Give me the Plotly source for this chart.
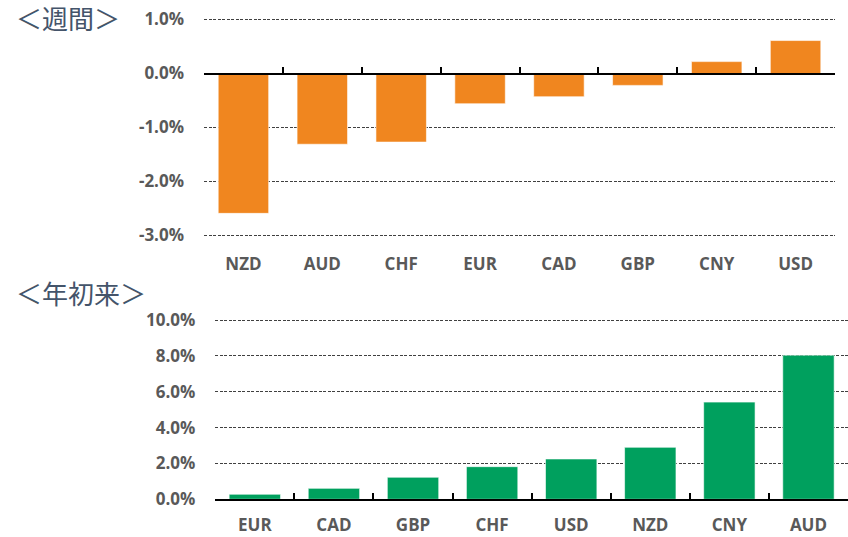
import plotly.graph_objects as go

# ---- data ----
weekly_labels = ["NZD", "AUD", "CHF", "EUR", "CAD", "GBP", "CNY", "USD"]
weekly_values = [-2.59, -1.31, -1.27, -0.56, -0.43, -0.22, 0.22, 0.61]
weekly_ticks = [1.0, 0.0, -1.0, -2.0, -3.0]

ytd_labels = ["EUR", "CAD", "GBP", "CHF", "USD", "NZD", "CNY", "AUD"]
ytd_values = [0.28, 0.61, 1.23, 1.82, 2.25, 2.90, 5.42, 8.04]
ytd_ticks = [0.0, 2.0, 4.0, 6.0, 8.0, 10.0]

W, H = 848, 537
ORANGE = "#F0861F"
GREEN = "#00A05E"
GRAY = "#595959"
TITLE = "#44546A"
FONT = "Open Sans"
PAD = 2  # px of padding so edge gridlines are drawn

def py(px):  # window pixel from top -> paper fraction
    return 1 - px / H

def pxx(px):
    return px / W

# top chart: tick range [-3, 1] spans 235.5 -> 19.5 px
t_lo, t_hi = min(weekly_ticks), max(weekly_ticks)
t_ppu = (235.5 - 19.5) / (t_hi - t_lo)
top_dom = [py(235.5 + PAD), py(19.5 - PAD)]
top_range = [t_lo - PAD / t_ppu, t_hi + PAD / t_ppu]

b_lo, b_hi = min(ytd_ticks), max(ytd_ticks)
b_ppu = (499.3 - 320) / (b_hi - b_lo)
bot_dom = [py(499.3), py(320 - PAD)]
bot_range = [b_lo, b_hi + PAD / b_ppu]

top_x = [pxx(204), pxx(835)]
bot_x = [pxx(215.3), 1.0]

fig = go.Figure()
fig.add_trace(go.Bar(x=list(range(len(weekly_labels))), y=weekly_values, xaxis="x", yaxis="y",
                     marker=dict(color=ORANGE, line=dict(color="rgba(255,255,255,0.6)", width=1)),
                     width=0.64, hoverinfo="skip"))
fig.add_trace(go.Bar(x=list(range(len(ytd_labels))), y=ytd_values, xaxis="x2", yaxis="y2",
                     marker=dict(color=GREEN, line=dict(color="rgba(255,255,255,0.6)", width=1)),
                     width=0.65, hoverinfo="skip"))

tickfont = dict(family=FONT, size=17, color=GRAY, weight="bold")
grid = dict(showgrid=True, gridcolor="#404040", gridwidth=1, griddash="3px,1.5px")

zero_pos = top_dom[0] + (0 - top_range[0]) / (top_range[1] - top_range[0]) * (top_dom[1] - top_dom[0])
n = len(weekly_labels)
m = len(ytd_labels)

fig.update_layout(
    width=W, height=H,
    margin=dict(l=0, r=0, t=0, b=0, autoexpand=False),
    paper_bgcolor="white", plot_bgcolor="white",
    showlegend=False,
    xaxis=dict(domain=top_x, anchor="y", range=[-0.5, n - 0.5], automargin=False,
               tickvals=list(range(n)), ticktext=weekly_labels, tickfont=tickfont,
               ticklabeloverflow="allow",
               showgrid=False, showline=False, ticks="", ticklabelstandoff=14, zeroline=False),
    yaxis=dict(domain=top_dom, anchor="x", range=top_range, tickvals=weekly_ticks,
               automargin=False, ticklabeloverflow="allow",
               ticktext=[f"{v:.1f}%" for v in weekly_ticks], tickfont=tickfont,
               zeroline=False, showline=False, ticks="", ticklabelstandoff=19, **grid),
    xaxis3=dict(domain=top_x, anchor="free", position=zero_pos, overlaying="x",
                automargin=False,
                range=[-0.5, n - 0.5], tickvals=[i - 0.5 for i in range(n + 1)],
                showticklabels=False,
                showline=True, linecolor="black", linewidth=2,
                ticks="inside", ticklen=6, tickwidth=1.5, tickcolor="black",
                showgrid=False, zeroline=False),
    xaxis2=dict(domain=bot_x, anchor="y2", range=[-0.5, m - 0.5],
                automargin=False, ticklabeloverflow="allow",
                tickvals=list(range(m)), ticktext=ytd_labels, tickfont=tickfont,
                showgrid=False, showline=False, ticks="", ticklabelstandoff=14, zeroline=False),
    xaxis4=dict(domain=bot_x, anchor="y2", overlaying="x2", automargin=False,
                range=[-0.5, m - 0.5],
                tickvals=[i - 0.5 for i in range(m + 1)], showticklabels=False,
                showline=True, linecolor="black", linewidth=2,
                ticks="inside", ticklen=6, tickwidth=1.5, tickcolor="black",
                showgrid=False, zeroline=False),
    yaxis2=dict(domain=bot_dom, anchor="x2", range=bot_range,
                automargin=False, ticklabeloverflow="allow",
                tickvals=ytd_ticks, ticktext=[f"{v:.1f}%" for v in ytd_ticks], tickfont=tickfont,
                zeroline=False, showline=False, ticks="", ticklabelstandoff=19, **grid),
    annotations=[
        dict(text="＜週間＞", xref="paper", yref="paper", x=pxx(14), y=py(18), xanchor="left",
             yanchor="middle", showarrow=False,
             font=dict(family="Noto Sans CJK JP", size=26, color=TITLE)),
        dict(text="＜年初来＞", xref="paper", yref="paper", x=pxx(14), y=py(292), xanchor="left",
             yanchor="middle", showarrow=False,
             font=dict(family="Noto Sans CJK JP", size=26, color=TITLE)),
    ],
)
# invisible traces so overlay axes render
fig.add_trace(go.Scatter(x=[0], y=[0], xaxis="x3", yaxis="y", mode="markers",
                         marker=dict(opacity=0), hoverinfo="skip"))
fig.add_trace(go.Scatter(x=[0], y=[0], xaxis="x4", yaxis="y2", mode="markers",
                         marker=dict(opacity=0), hoverinfo="skip"))

fig.write_html("out.html", config={"displayModeBar": False},
               post_script="document.body.style.margin='0';document.body.style.overflow='hidden';")
